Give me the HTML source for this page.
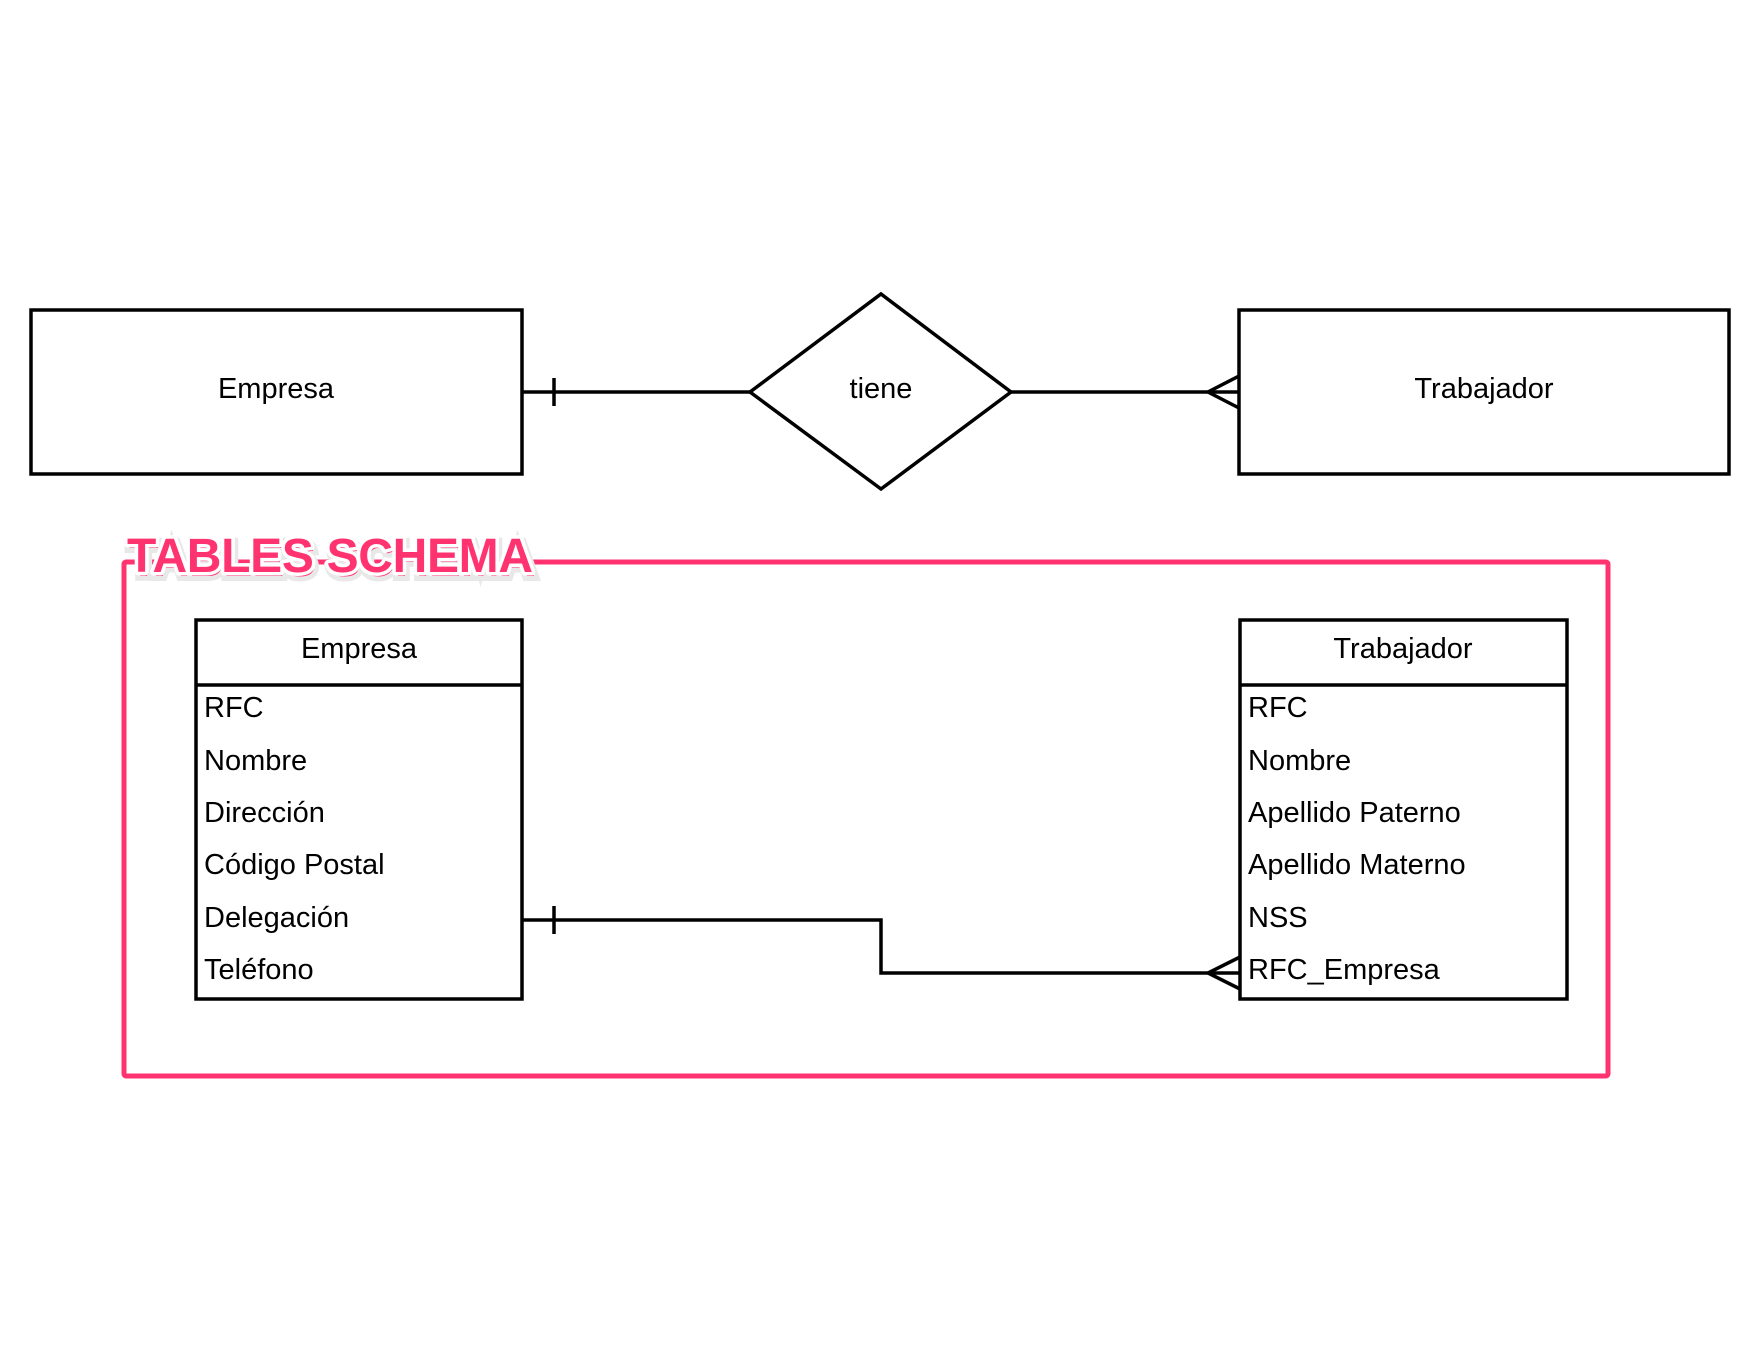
<!DOCTYPE html>
<html><head><meta charset="utf-8"><style>
html,body{margin:0;padding:0;background:#fff;}
svg{display:block;}
text{font-family:"Liberation Sans",Arial,sans-serif;fill:#000;}
</style></head><body>
<svg width="1760" height="1360" viewBox="0 0 1760 1360" xmlns="http://www.w3.org/2000/svg">
<rect width="1760" height="1360" fill="#fff"/>
<g stroke="#000" stroke-width="3.5" fill="none">
<rect x="31" y="310" width="491" height="164"/>
<rect x="1239" y="310" width="490" height="164"/>
<polygon points="750,392 881,294 1011,392 881,489" fill="#fff"/>
<line x1="522" y1="392" x2="750" y2="392"/>
<line x1="554" y1="378" x2="554" y2="406"/>
<line x1="1011" y1="392" x2="1239" y2="392"/>
<polyline points="1239,376 1208,392 1239,408"/>
<rect x="196" y="620" width="326" height="379"/>
<line x1="196" y1="685" x2="522" y2="685"/>
<rect x="1240" y="620" width="327" height="379"/>
<line x1="1240" y1="685" x2="1567" y2="685"/>
<polyline points="522,920 881,920 881,973 1240,973"/>
<line x1="554" y1="906" x2="554" y2="934"/>
<polyline points="1240,957 1208,973 1240,989"/>
</g>
<rect x="124" y="562" width="1484" height="514" fill="none" stroke="#ff3370" stroke-width="5" rx="2"/>
<text x="128" y="574" font-size="48" font-weight="bold" stroke="#e8e8e8" stroke-width="10" paint-order="stroke" style="fill:#ff3370" transform="translate(1,2)" textLength="406">TABLES SCHEMA</text>
<text x="127" y="572" font-size="48" font-weight="bold" stroke="#fff" stroke-width="7" stroke-linejoin="round" paint-order="stroke" style="fill:#ff3370" textLength="406">TABLES SCHEMA</text>
<g font-size="29">
<text x="276" y="398" text-anchor="middle">Empresa</text>
<text x="881" y="398" text-anchor="middle">tiene</text>
<text x="1484" y="398" text-anchor="middle">Trabajador</text>
<text x="359" y="658" text-anchor="middle">Empresa</text>
<text x="1403" y="658" text-anchor="middle">Trabajador</text>
<text x="204" y="717">RFC</text>
<text x="204" y="770">Nombre</text>
<text x="204" y="822">Dirección</text>
<text x="204" y="874">Código Postal</text>
<text x="204" y="927">Delegación</text>
<text x="204" y="979">Teléfono</text>
<text x="1248" y="717">RFC</text>
<text x="1248" y="770">Nombre</text>
<text x="1248" y="822">Apellido Paterno</text>
<text x="1248" y="874">Apellido Materno</text>
<text x="1248" y="927">NSS</text>
<text x="1248" y="979">RFC_Empresa</text>
</g>
</svg>
</body></html>
